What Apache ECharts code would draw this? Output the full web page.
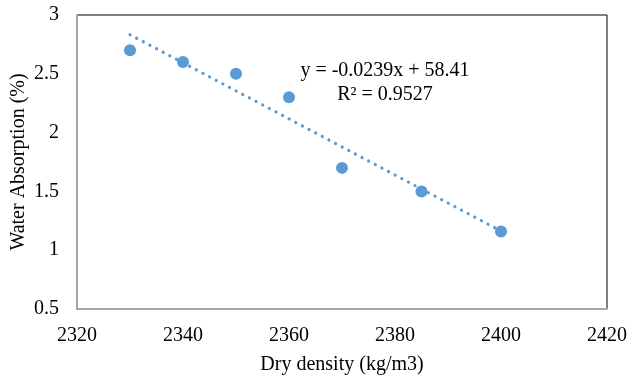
<!DOCTYPE html>
<html><head><meta charset="utf-8">
<script src="https://cdn.jsdelivr.net/npm/echarts@6/dist/echarts.min.js"></script>
<style>html,body{margin:0;padding:0;background:#fff}#c{width:628px;height:379px}</style>
</head><body><div id="c"></div>
<script>
const density = [2330, 2340, 2350, 2360, 2370, 2385, 2400];
const absorption = [2.7, 2.6, 2.5, 2.3, 1.7, 1.5, 1.16];
const xTicks = [2320, 2340, 2360, 2380, 2400, 2420];
const yTicks = [0.5, 1, 1.5, 2, 2.5, 3];
const eqText = 'y = -0.0239x + 58.41';
const r2Text = 'R² = 0.9527';

// least squares trendline from the data
const n = density.length;
const mx = density.reduce((a,b)=>a+b,0)/n;
const my = absorption.reduce((a,b)=>a+b,0)/n;
let sxy=0, sxx=0;
for(let i=0;i<n;i++){sxy+=(density[i]-mx)*(absorption[i]-my);sxx+=(density[i]-mx)**2;}
const slope = sxy/sxx, icpt = my - slope*mx;
const xmin = Math.min(...density), xmax = Math.max(...density);
const trend = [[xmin, slope*xmin+icpt],[xmax, slope*xmax+icpt]];

const font = 'Liberation Serif';
const fs = 20;
const chart = echarts.init(document.getElementById('c'));
chart.setOption({
  animation:false,
  grid:{left:77,top:15,right:21,bottom:70,show:true,borderColor:'#000',borderWidth:1,
        containLabel:false,outerBoundsMode:'none'},
  xAxis:{type:'value',min:xTicks[0],max:xTicks[xTicks.length-1],interval:20,
    name:'Dry density (kg/m3)',nameLocation:'middle',nameGap:46,nameMoveOverlap:false,
    nameTextStyle:{fontFamily:font,fontSize:fs,color:'#000'},
    axisLine:{show:true,lineStyle:{color:'#a6a6a6',width:2}},axisTick:{show:false},
    splitLine:{show:false},
    axisLabel:{fontFamily:font,fontSize:fs,color:'#000',margin:17,formatter:v=>String(v)}},
  yAxis:{type:'value',min:yTicks[0],max:yTicks[yTicks.length-1],interval:0.5,
    name:'Water Absorption (%)',nameLocation:'middle',nameGap:48,nameMoveOverlap:false,
    nameTextStyle:{fontFamily:font,fontSize:fs,color:'#000'},
    axisLine:{show:true,lineStyle:{color:'#a6a6a6',width:2}},axisTick:{show:false},
    splitLine:{show:false},
    axisLabel:{fontFamily:font,fontSize:fs,color:'#000',margin:18,formatter:v=>String(v)}},
  graphic:[
    {type:'text',style:{text:eqText,x:385,y:71,align:'center',verticalAlign:'middle',font:fs+'px "Liberation Serif"',fill:'#000'}},
    {type:'text',style:{text:r2Text,x:385,y:95,align:'center',verticalAlign:'middle',font:fs+'px "Liberation Serif"',fill:'#000'}}
  ],
  series:[
    {type:'line',data:trend,showSymbol:false,symbol:'none',silent:true,
     lineStyle:{color:'#5b9bd5',width:3.2,type:[0.1,7.4],cap:'round'},z:1},
    {type:'scatter',data:density.map((d,i)=>[d,absorption[i]]),symbolSize:12,
     itemStyle:{color:'#5b9bd5',opacity:1},z:2}
  ]
});
</script></body></html>
